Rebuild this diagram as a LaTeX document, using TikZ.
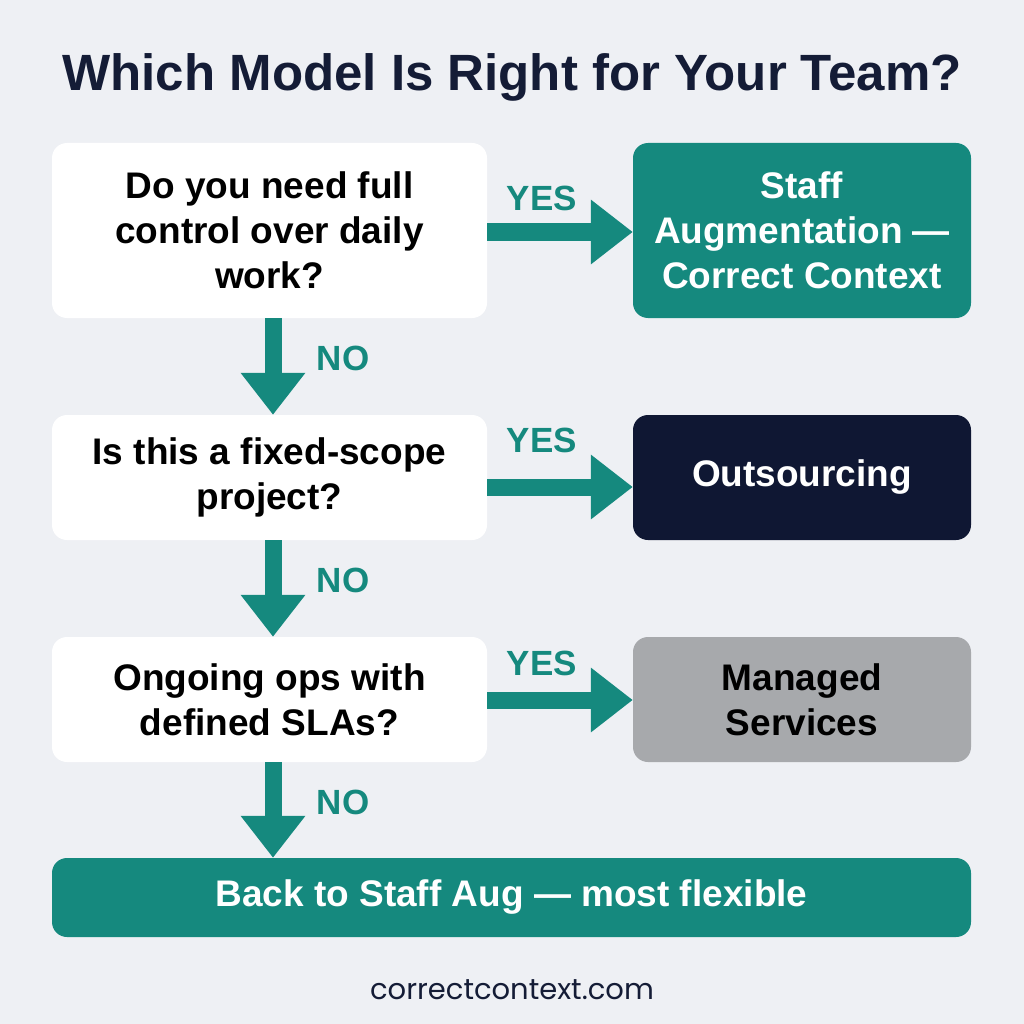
\documentclass[tikz,border=0pt]{standalone}
\usepackage{fontspec}
\setmainfont{Liberation Sans}
\newfontfamily\foot{Poppins}
\usetikzlibrary{arrows.meta}
\definecolor{bg}{HTML}{EEF0F4}
\definecolor{teal}{HTML}{15897E}
\definecolor{navy}{HTML}{0F1733}
\definecolor{gry}{HTML}{A7A9AC}
\definecolor{ttl}{HTML}{141C36}
\tikzset{
 box/.style={rounded corners=15pt,minimum width=#1,inner sep=0pt,align=center,font=\fontsize{37}{45}\selectfont\bfseries},
 q/.style={box=435pt,fill=white,text=black},
 arr/.style={draw=teal,line width=17pt,-{Triangle[width=62pt,length=42pt]}},
 lab/.style={text=teal,font=\fontsize{35}{38}\selectfont\bfseries}
}
\begin{document}
\begin{tikzpicture}[x=1pt,y=-1pt]
\fill[bg] (0,0) rectangle (1024,1024);
\useasboundingbox (0,0) rectangle (1024,1024);
\node[text=ttl,font=\fontsize{51}{55}\selectfont\bfseries] (title) at (512,77) {Which Model Is Right for Your Team?};
\node[q,minimum height=175pt] (q1) at (269.5,230.5) {Do you need full\\control over daily\\work?};
\node[box=338pt,minimum height=175pt,fill=teal,text=white] (r1) at (802,230.5) {Staff\\Augmentation ---\\Correct Context};
\node[q,minimum height=125pt] (q2) at (269.5,477.5) {Is this a fixed-scope\\project?};
\node[box=338pt,minimum height=125pt,fill=navy,text=white] (r2) at (802,477.5) {Outsourcing};
\node[q,minimum height=125pt] (q3) at (269.5,699.5) {Ongoing ops with\\defined SLAs?};
\node[box=338pt,minimum height=125pt,fill=gry,text=black] (r3) at (802,699.5) {Managed\\Services};
\node[box=919pt,minimum height=79pt,fill=teal,text=white] (f) at (511.5,897.5) {Back to Staff Aug --- most flexible};
\node[font=\foot\fontsize{29}{32}\selectfont,text=ttl] (url) at (512,990) {correctcontext.com};
\draw[arr] (q1.east|-0,232) -- (r1.west|-0,232);
\draw[arr] (q2.east|-0,487) -- (r2.west|-0,487);
\draw[arr] (q3.east|-0,700) -- (r3.west|-0,700);
\draw[arr] (273,0|-q1.south) -- (273,0|-q2.north);
\draw[arr] (273,0|-q2.south) -- (273,0|-q3.north);
\draw[arr] (273,0|-q3.south) -- (273,0|-f.north);
\node[lab] (y1) at (542,198) {YES};
\node[lab] (y2) at (542,440) {YES};
\node[lab] (y3) at (542,663) {YES};
\node[lab] (n1) at (343,358) {NO};
\node[lab] (n2) at (343,580) {NO};
\node[lab] (n3) at (343,802) {NO};
\end{tikzpicture}
\end{document}
